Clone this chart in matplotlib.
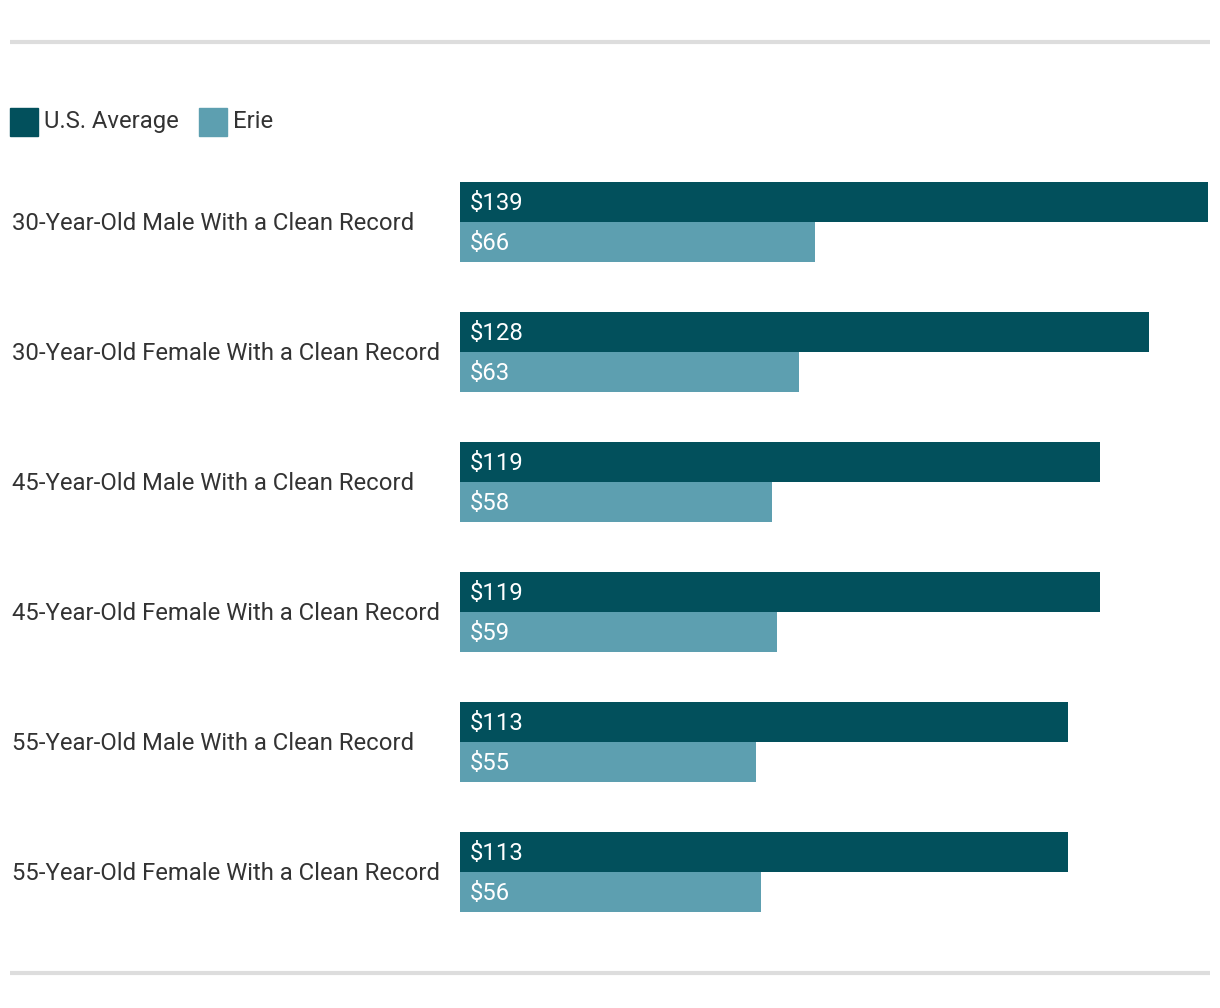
import matplotlib
matplotlib.use("Agg")
import matplotlib.pyplot as plt
from matplotlib.patches import Rectangle
from matplotlib.lines import Line2D

plt.rcParams['font.family'] = ['Roboto', 'DejaVu Sans']

categories = [
    "30-Year-Old Male With a Clean Record",
    "30-Year-Old Female With a Clean Record",
    "45-Year-Old Male With a Clean Record",
    "45-Year-Old Female With a Clean Record",
    "55-Year-Old Male With a Clean Record",
    "55-Year-Old Female With a Clean Record",
]
us_average = [139, 128, 119, 119, 113, 113]
erie = [66, 63, 58, 59, 55, 56]
series_names = ["U.S. Average", "Erie"]

DARK = "#02505c"
LIGHT = "#5d9fb0"
TEXT = "#333333"
FS = 17.2

W, H = 1220, 1008
fig = plt.figure(figsize=(W / 100, H / 100), dpi=100)

# axes in pixel coords
left_px, right_px = 460, 1208
top_px, bottom_px = 182, 912
ax = fig.add_axes([left_px / W, (H - bottom_px) / H,
                   (right_px - left_px) / W, (bottom_px - top_px) / H])

bh = 40 / 130
n = len(categories)
y_dark = [i + bh / 2 for i in range(n)]
y_light = [i + 1.5 * bh for i in range(n)]

ax.barh(y_dark, us_average, height=bh, color=DARK)
ax.barh(y_light, erie, height=bh, color=LIGHT)
ax.set_xlim(0, max(us_average))
ax.set_ylim(n - 1 + 2 * bh, 0)
ax.axis("off")

for yd, yl, a, e in zip(y_dark, y_light, us_average, erie):
    ax.annotate(f"${a}", (0, yd), xytext=(10, -8), textcoords="offset pixels",
                color="white", fontsize=FS, va="baseline", ha="left")
    ax.annotate(f"${e}", (0, yl), xytext=(10, -8), textcoords="offset pixels",
                color="white", fontsize=FS, va="baseline", ha="left")

# category labels
for i, cat in enumerate(categories):
    ax.annotate(cat, (0, i + bh), xycoords=("figure fraction", "data"),
                xytext=(12, -8), textcoords="offset pixels",
                color=TEXT, fontsize=FS, va="baseline", ha="left")

# separator lines
for ypx in (42, 973):
    fig.add_artist(Line2D([10 / W, 1210 / W], [(H - ypx) / H] * 2,
                          color="#dddddd", linewidth=3, solid_capstyle="butt",
                          transform=fig.transFigure))

# legend
lx = 10
for name, col in zip(series_names, [DARK, LIGHT]):
    fig.add_artist(Rectangle((lx / W, (H - 136) / H), 28 / W, 28 / H,
                             color=col, transform=fig.transFigure))
    fig.text((lx + 34) / W, (H - 128) / H, name, color=TEXT,
             fontsize=FS, va="baseline", ha="left")
    lx = 199

fig.savefig("out.png", dpi=100, facecolor="white")
